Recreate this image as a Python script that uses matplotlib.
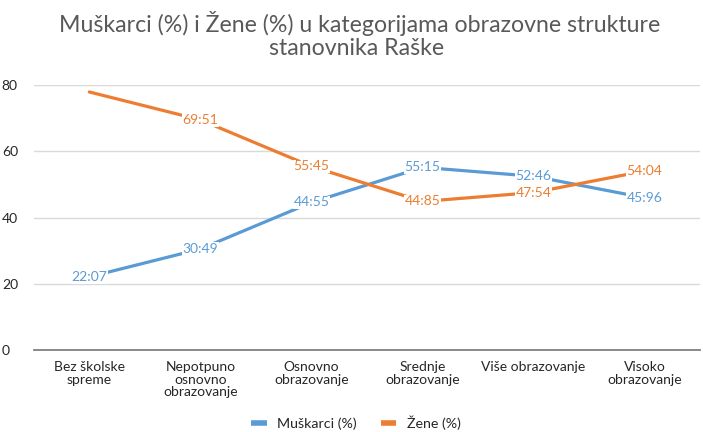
import matplotlib.pyplot as plt
from matplotlib.lines import Line2D

plt.rcParams['font.family'] = ['Lato', 'DejaVu Sans']

categories = ['Bez školske\nspreme', 'Nepotpuno\nosnovno\nobrazovanje', 'Osnovno\nobrazovanje',
              'Srednje\nobrazovanje', 'Više obrazovanje', 'Visoko\nobrazovanje']
muskarci = [22.07, 30.49, 44.55, 55.15, 52.46, 45.96]
zene = [77.93, 69.51, 55.45, 44.85, 47.54, 54.04]
muskarci_labels = ['22:07', '30:49', '44:55', '55:15', '52:46', '45:96']
zene_labels = [None, '69:51', '55:45', '44:85', '47:54', '54:04']
yticks = [0, 20, 40, 60, 80]

blue = '#5B9BD5'
orange = '#ED7D31'

fig = plt.figure(figsize=(7.03, 4.32), dpi=100)
ax = fig.add_axes([0.048, 0.19, 0.948, 0.613])

x = range(len(categories))
ax.plot(x, muskarci, color=blue, lw=2.3, solid_capstyle='round')
ax.plot(x, zene, color=orange, lw=2.3, solid_capstyle='round')

for xi, v, t in zip(x, muskarci, muskarci_labels):
    if t:
        ax.text(xi, v, t, color=blue, fontsize=10, ha='center', va='center',
                bbox=dict(facecolor='white', edgecolor='none', pad=0.5))
for xi, v, t in zip(x, zene, zene_labels):
    if t:
        ax.text(xi, v, t, color=orange, fontsize=10, ha='center', va='center',
                bbox=dict(facecolor='white', edgecolor='none', pad=0.5))

ax.set_xlim(-0.5, len(categories) - 0.5)
ax.set_ylim(0, 80)
ax.set_yticks(yticks)
ax.set_xticks(list(x))
ax.set_xticklabels(categories, fontsize=10, color='#262626', va='top', linespacing=1.05)
ax.tick_params(axis='y', labelsize=10, labelcolor='#262626', length=0, pad=23)
ax.tick_params(axis='x', length=0, pad=8)
ax.grid(axis='y', color='#D9D9D9', lw=1)
ax.set_axisbelow(True)
for s in ['top', 'right', 'left']:
    ax.spines[s].set_visible(False)
ax.spines['bottom'].set_color('#808080')
ax.spines['bottom'].set_linewidth(1.3)
for lbl in ax.get_yticklabels():
    lbl.set_horizontalalignment('left')

fig.text(0.511, 0.945, 'Muškarci (%) i Žene (%) u kategorijama obrazovne strukture',
         fontsize=16.7, color='#595959', ha='center', va='center')
fig.text(0.507, 0.887, 'stanovnika Raške',
         fontsize=16.7, color='#595959', ha='center', va='center')

handles = [Line2D([], [], color=blue, lw=4, solid_capstyle='butt'),
           Line2D([], [], color=orange, lw=4, solid_capstyle='butt')]
fig.legend(handles, ['Muškarci (%)', 'Žene (%)'], loc='lower center', ncol=2,
           frameon=False, fontsize=10.3, labelcolor='#262626',
           bbox_to_anchor=(0.506, -0.026), handlelength=1.1, handletextpad=0.7,
           columnspacing=1.7)

fig.savefig('out.png', dpi=100)
